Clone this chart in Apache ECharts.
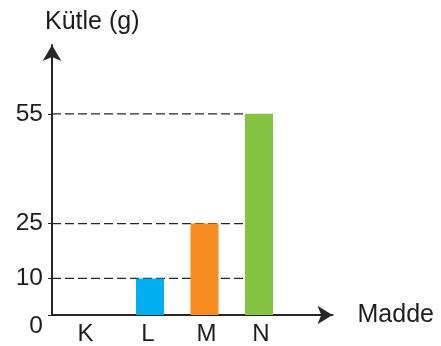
<!DOCTYPE html>
<html><head><meta charset="utf-8">
<script src="https://cdn.jsdelivr.net/npm/echarts@6/dist/echarts.min.js"></script>
<style>html,body{margin:0;padding:0;background:#fff}#c{width:441px;height:346px}</style>
</head><body><div id="c"></div>
<script>
// ---- data ----
const categories = ['K', 'L', 'M', 'N'];
const masses = [0, 10, 25, 55];
const yTickValues = [0, 10, 25, 55];
const guideValues = [10, 25, 55];
const yName = 'Kütle (g)';
const xName = 'Madde';

// ---- styling ----
const barColors = ['#00AEEF', '#00AEEF', '#F68B1F', '#84C341'];
const FONT = '"Liberation Sans", Arial, Helvetica, sans-serif';
const INK = '#1f1c1d';
const AXIS = '#262626';
const yMax = 73.8;
const TOP = 45, BOTTOM = 31;

const chart = echarts.init(document.getElementById('c'), null, {renderer: 'canvas'});

const catRich = {
  s0: {fontSize: 24, fontFamily: FONT, color: INK, padding: [0, 20, 0, 0]},
  s1: {fontSize: 24, fontFamily: FONT, color: INK, padding: [0, 4, 0, 0]},
  s2: {fontSize: 24, fontFamily: FONT, color: INK, padding: [0, 0, 0, 4]},
  s3: {fontSize: 24, fontFamily: FONT, color: INK, padding: [0, 0, 0, 4]}
};

const series = [];
guideValues.forEach(function (v) {
  series.push({
    type: 'line', xAxisIndex: 2, yAxisIndex: 2,
    data: [[0, v], [1, v]],
    symbol: 'none', silent: true, z: 1,
    lineStyle: {color: AXIS, width: 1.2, type: [9, 4]}
  });
});
series.push({
  type: 'bar', xAxisIndex: 1, yAxisIndex: 1,
  data: masses.map(function (v, i) { return {value: v, itemStyle: {color: barColors[i]}}; }),
  barWidth: 28, silent: true, z: 2
});

chart.setOption({
  animation: false,
  backgroundColor: '#ffffff',
  title: {
    text: yName, left: 45, top: 10, padding: 0,
    textStyle: {fontSize: 25, fontWeight: 'normal', fontFamily: FONT, color: INK}
  },
  grid: [
    {left: 52, right: 108.5, top: TOP, bottom: BOTTOM},
    {left: 68.25, width: 218, top: TOP, bottom: BOTTOM},
    {left: 52, width: 193, top: TOP, bottom: BOTTOM}
  ],
  xAxis: [
    {
      gridIndex: 0, type: 'value', min: 0, max: 1,
      axisLine: {show: true, symbol: ['none', 'arrow'], symbolSize: [14, 15], lineStyle: {color: AXIS, width: 2}},
      axisTick: {show: false}, axisLabel: {show: false}, splitLine: {show: false},
      name: xName, nameLocation: 'end', nameGap: 25,
      nameTextStyle: {fontSize: 25, fontFamily: FONT, color: INK}
    },
    {
      gridIndex: 1, type: 'category', data: categories,
      axisLine: {show: false}, axisTick: {show: false}, splitLine: {show: false},
      axisLabel: {
        interval: 0, hideOverlap: false,
        margin: 7, fontSize: 24, fontFamily: FONT, color: INK,
        formatter: function (v, i) { return '{s' + i + '|' + v + '}'; },
        rich: catRich
      }
    },
    {
      gridIndex: 2, type: 'value', min: 0, max: 1, show: false
    }
  ],
  yAxis: [
    {
      gridIndex: 0, type: 'value', min: 0, max: yMax,
      axisLine: {show: true, symbol: ['none', 'arrow'], symbolSize: [14, 16], lineStyle: {color: AXIS, width: 2}},
      axisTick: {show: true, length: 4, customValues: yTickValues, lineStyle: {color: AXIS, width: 1}},
      splitLine: {show: false},
      axisLabel: {
        customValues: yTickValues, margin: 9, fontSize: 24.5, fontFamily: FONT, color: INK,
        formatter: function (v) { return v === 0 ? '{z|0}' : String(v); },
        rich: {z: {fontSize: 24.5, fontFamily: FONT, color: INK, padding: [22, 0, 0, 0]}}
      }
    },
    {gridIndex: 1, type: 'value', min: 0, max: yMax, show: false},
    {gridIndex: 2, type: 'value', min: 0, max: yMax, show: false}
  ],
  series: series
});
</script>
</body></html>
